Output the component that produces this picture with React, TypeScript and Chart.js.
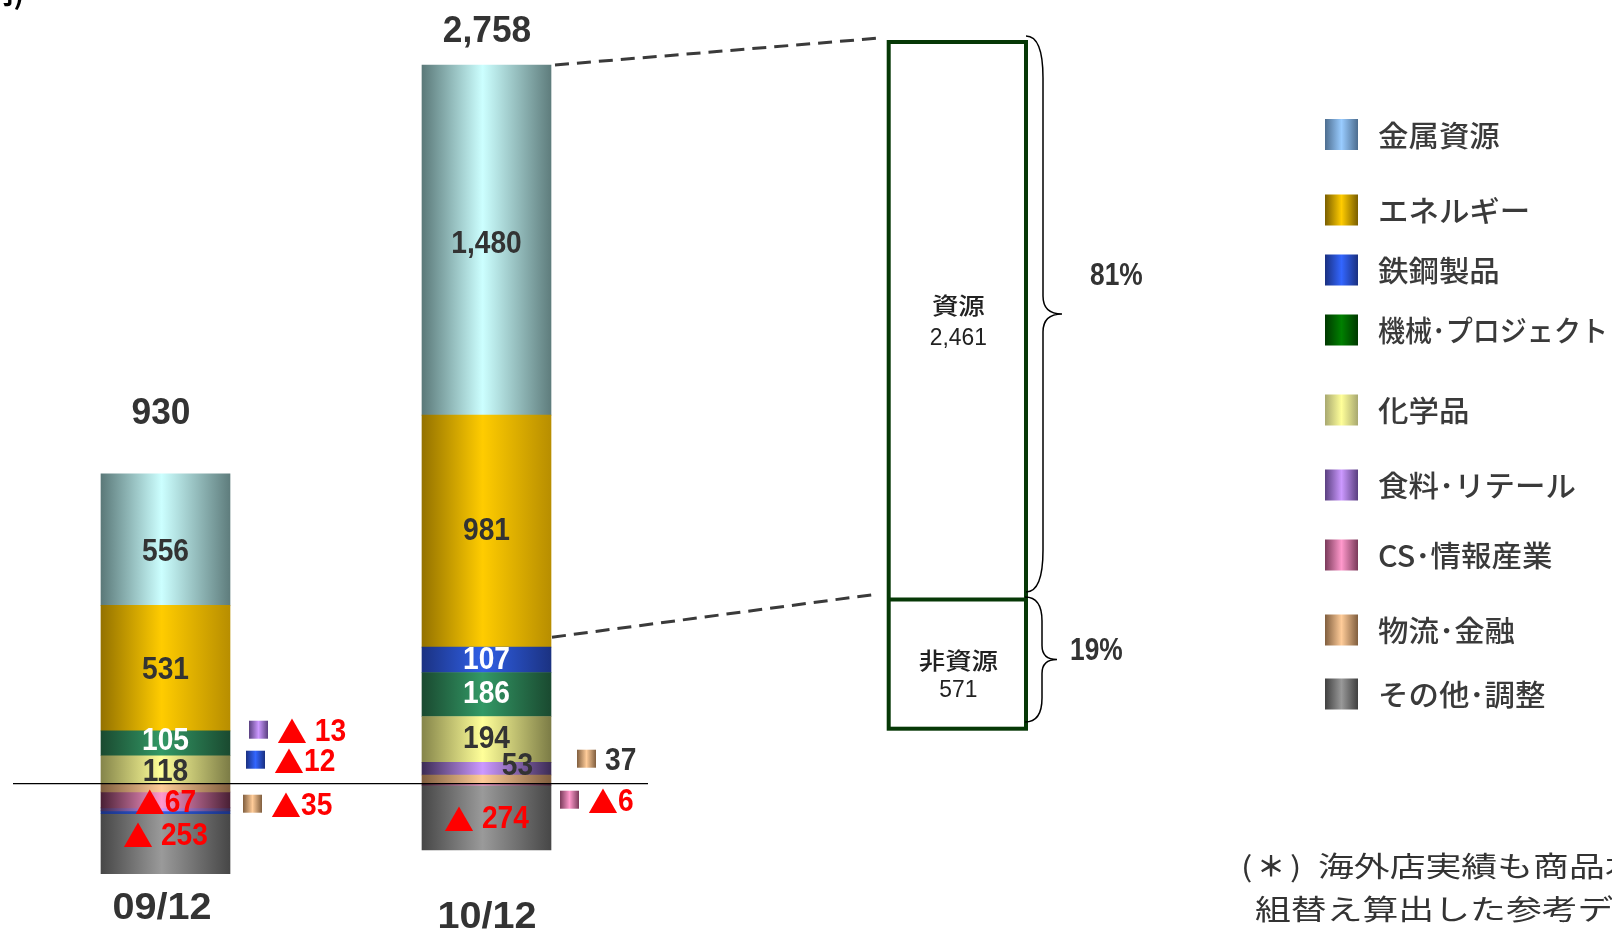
import React, { useEffect, useRef } from "react";
import { Chart, registerables } from "chart.js";

Chart.register(...registerables);

// ---------------- data ----------------
const categories = ["09/12", "10/12"];
const metalValues = [556, 1480];
const energyValues = [531, 981];
const steelValues = [-12, 107];
const machineryValues = [105, 186];
const chemicalValues = [118, 194];
const foodValues = [-13, 53];
const csValues = [-67, -6];
const logisticsValues = [-35, 37];
const otherValues = [-253, -274];
const totalValues = [930, 2758];
const resourceLabel = "資源";
const nonResourceLabel = "非資源";
const resourceValue = 2461;
const nonResourceValue = 571;
const unitText = "(億円)";
const noteLines = ["(＊)海外店実績も商品本部別に", "組替え算出した参考データ"];

// ---------------- styles ----------------
type Series = {
  key: string;
  name: string;
  values: number[];
  bar: string[];
  legend: string[];
  text: string;
};

const SERIES: Series[] = [
  { key: "metal", name: "金属資源", values: metalValues, bar: ["#5b7979", "#ccffff", "#5f7d7d"], legend: ["#4d6d8f", "#99ccff", "#4d6d8f"], text: "#333333" },
  { key: "energy", name: "エネルギー", values: energyValues, bar: ["#947200", "#ffcc00", "#b88e00"], legend: ["#7a5e00", "#ffcc00", "#7a5e00"], text: "#333333" },
  { key: "steel", name: "鉄鋼製品", values: steelValues, bar: ["#1b3282", "#3060e6", "#1b3282"], legend: ["#1a3080", "#3366ff", "#1a3080"], text: "#ffffff" },
  { key: "machinery", name: "機械･プロジェクト", values: machineryValues, bar: ["#1a4a30", "#339966", "#1a4a30"], legend: ["#003800", "#008000", "#003800"], text: "#ffffff" },
  { key: "chemicals", name: "化学品", values: chemicalValues, bar: ["#85854a", "#ffff99", "#7c7c46"], legend: ["#a8a870", "#ffff99", "#a8a870"], text: "#333333" },
  { key: "food", name: "食料･リテール", values: foodValues, bar: ["#3c2c55", "#cc99ff", "#3c2c55"], legend: ["#5a4080", "#cc99ff", "#5a4080"], text: "#333333" },
  { key: "cs", name: "CS･情報産業", values: csValues, bar: ["#4a2035", "#ff99cc", "#4a2035"], legend: ["#7a3a5a", "#ff99cc", "#7a3a5a"], text: "#333333" },
  { key: "logistics", name: "物流･金融", values: logisticsValues, bar: ["#805e3e", "#ffcc99", "#805e3e"], legend: ["#805e3e", "#ffcc99", "#805e3e"], text: "#333333" },
  { key: "other", name: "その他･調整", values: otherValues, bar: ["#474747", "#9a9a9a", "#474747"], legend: ["#404040", "#999999", "#404040"], text: "#333333" },
];
const byKey: Record<string, Series> = {};
SERIES.forEach((s) => (byKey[s.key] = s));

const stackOrder = ["logistics", "cs", "food", "chemicals", "machinery", "steel", "energy", "metal", "other"];
const legendOrder = ["metal", "energy", "steel", "machinery", "chemicals", "food", "cs", "logistics", "other"];

const BAR_W = 129;
const INSIDE_MIN = 50;
const RED = "#ff0000";
const DARK = "#333333";
const JP = '"Noto Sans CJK JP", "Noto Sans CJK SC", sans-serif';
const NUM = '"Liberation Sans", "Noto Sans CJK JP", sans-serif';
const NUM_FONT = `bold 32px ${NUM}`;
const NUM_SX = 0.88;
const TRI_FONT = `bold 30px "Noto Sans CJK JP", sans-serif`;

// ---------------- layout (annotation placement) ----------------
const LABEL_NUDGE: Record<string, number[]> = {
  "metal:0": [0, 13],
  "metal:1": [0, 4],
  "energy:0": [0, 2],
  "machinery:0": [0, -2],
  "chemicals:0": [0, 2],
  "cs:0": [0, 3],
  "food:1": [31, -3],
  "other:0": [0, -8],
  "other:1": [0, 2],
};
const TOTAL_DX = [-4.5, 0.5];
const TOTAL_DY = [-60, -33];
const CAT_DX = [-3.5, 0.5];
const CAT_Y = [909, 918];
const CALLOUTS = [
  { key: "food", idx: 0, dx: 19, dy: -54, space: true },
  { key: "steel", idx: 0, dx: 16, dy: -24, space: false },
  { key: "logistics", idx: 0, dx: 13, dy: 20, space: false },
  { key: "logistics", idx: 1, dx: 26, dy: -25, space: false },
  { key: "cs", idx: 1, dx: 9, dy: 16, space: false },
];
const BOX = { x: 888.7, y: 42, w: 137.3, h: 686.7 };
const LEGEND_Y = [134.5, 210, 270, 330, 410, 485, 555, 630, 694];

type Part = { t: string; font: string; sx: number };

function numParts(v: number, space?: boolean): Part[] {
  const a = Math.abs(v).toLocaleString("en-US");
  if (v < 0) {
    const sp = space || Math.abs(v) >= 100 ? " " : "";
    return [
      { t: "▲", font: TRI_FONT, sx: 1 },
      { t: sp + a, font: NUM_FONT, sx: NUM_SX },
    ];
  }
  return [{ t: a, font: NUM_FONT, sx: NUM_SX }];
}

function rich(ctx: CanvasRenderingContext2D, parts: Part[], x: number, y: number, color: string, align: "left" | "center") {
  ctx.save();
  ctx.fillStyle = color;
  ctx.textBaseline = "middle";
  ctx.textAlign = "left";
  const widths = parts.map((p) => {
    ctx.font = p.font;
    return ctx.measureText(p.t).width * p.sx;
  });
  const total = widths.reduce((a, b) => a + b, 0);
  let cx = align === "center" ? x - total / 2 : x;
  parts.forEach((p, i) => {
    ctx.save();
    ctx.font = p.font;
    ctx.translate(cx, y);
    ctx.scale(p.sx, 1);
    ctx.fillText(p.t, 0, 0);
    ctx.restore();
    cx += widths[i];
  });
  ctx.restore();
}

function txt(
  ctx: CanvasRenderingContext2D,
  s: string,
  x: number,
  y: number,
  font: string,
  color: string,
  align: CanvasTextAlign = "center",
  sx = 1,
  baseline: CanvasTextBaseline = "middle",
  maxW?: number
) {
  ctx.save();
  ctx.font = font;
  ctx.fillStyle = color;
  ctx.textAlign = align;
  ctx.textBaseline = baseline;
  ctx.translate(x, y);
  ctx.scale(sx, 1);
  if (maxW) ctx.fillText(s, 0, 0, maxW / sx);
  else ctx.fillText(s, 0, 0);
  ctx.restore();
}

function hGrad(ctx: CanvasRenderingContext2D, x0: number, w: number, stops: string[], mid = 0.47) {
  const g = ctx.createLinearGradient(x0, 0, x0 + w, 0);
  g.addColorStop(0, stops[0]);
  g.addColorStop(mid, stops[1]);
  g.addColorStop(1, stops[2]);
  return g;
}

function swatch(ctx: CanvasRenderingContext2D, x: number, y: number, w: number, h: number, stops: string[]) {
  ctx.save();
  ctx.fillStyle = hGrad(ctx, x, w, stops, 0.5);
  ctx.fillRect(x, y, w, h);
  ctx.restore();
}

function brace(ctx: CanvasRenderingContext2D, x0: number, yTop: number, yBot: number, xm: number, xTip: number, rEnd: number, rTip: number) {
  const ym = (yTop + yBot) / 2;
  ctx.beginPath();
  ctx.moveTo(x0, yTop);
  ctx.quadraticCurveTo(xm, yTop, xm, yTop + rEnd);
  ctx.lineTo(xm, ym - rTip);
  ctx.quadraticCurveTo(xm, ym, xTip, ym);
  ctx.quadraticCurveTo(xm, ym, xm, ym + rTip);
  ctx.lineTo(xm, yBot - rEnd);
  ctx.quadraticCurveTo(xm, yBot, x0, yBot);
  ctx.stroke();
}

// gives every bar segment its cylinder-like horizontal gradient, from the element's own x
const barShading = {
  id: "barShading",
  beforeDatasetsDraw(chart: any) {
    const ctx: CanvasRenderingContext2D = chart.ctx;
    stackOrder.forEach((k, di) => {
      const s = byKey[k];
      const meta = chart.getDatasetMeta(di);
      meta.data.forEach((el: any) => {
        const p = el.getProps(["x"], true);
        if (!isFinite(p.x)) return;
        const g = hGrad(ctx, p.x - BAR_W / 2, BAR_W, s.bar);
        el.options = Object.assign({}, el.options, { backgroundColor: g, borderWidth: 0 });
      });
    });
  },
};

const overlay = {
  id: "overlay",
  afterDatasetsDraw(chart: any) {
    const ctx: CanvasRenderingContext2D = chart.ctx;
    const xs = chart.scales.x;
    const ys = chart.scales.y;
    const y0 = ys.getPixelForValue(0);

    // zero line
    ctx.save();
    ctx.strokeStyle = "#000000";
    ctx.lineWidth = 1.2;
    ctx.beginPath();
    ctx.moveTo(13, y0);
    ctx.lineTo(648, y0);
    ctx.stroke();
    ctx.restore();

    // inside segment labels
    stackOrder.forEach((k, di) => {
      const s = byKey[k];
      const meta = chart.getDatasetMeta(di);
      s.values.forEach((v, i) => {
        if (Math.abs(v) < INSIDE_MIN) return;
        const el = meta.data[i];
        const p = el.getProps(["x", "y", "base"], true);
        const off = LABEL_NUDGE[k + ":" + i] || [0, 0];
        const cy = (p.y + p.base) / 2;
        rich(ctx, numParts(v), p.x + off[0], cy + off[1], v < 0 ? RED : s.text, "center");
      });
    });

    // totals and category labels
    categories.forEach((c, i) => {
      let pos = 0;
      SERIES.forEach((s) => {
        if (s.values[i] > 0) pos += s.values[i];
      });
      const cx = xs.getPixelForValue(i);
      const top = ys.getPixelForValue(pos);
      txt(ctx, totalValues[i].toLocaleString("en-US"), cx + TOTAL_DX[i], top + TOTAL_DY[i], `bold 36px ${NUM}`, DARK, "center", 0.98);
      txt(ctx, c, cx + CAT_DX[i], CAT_Y[i], `bold 36px ${NUM}`, DARK, "center", 1.1);
    });

    // callouts for thin segments
    CALLOUTS.forEach((co) => {
      const s = byKey[co.key];
      const v = s.values[co.idx];
      const right = xs.getPixelForValue(co.idx) + BAR_W / 2;
      const sx = right + co.dx;
      const sy = y0 + co.dy;
      swatch(ctx, sx, sy - 9, 19, 18, s.legend);
      rich(ctx, numParts(v, co.space), sx + 28, sy + 2, v < 0 ? RED : DARK, "left");
    });

    // dashed connector lines
    const metalMeta = chart.getDatasetMeta(stackOrder.indexOf("metal"));
    const energyMeta = chart.getDatasetMeta(stackOrder.indexOf("energy"));
    const mp = metalMeta.data[1].getProps(["x", "y", "base"], true);
    const ep = energyMeta.data[1].getProps(["x", "y", "base"], true);
    ctx.save();
    ctx.strokeStyle = "#3a3a3a";
    ctx.lineWidth = 3;
    ctx.setLineDash([14, 8]);
    ctx.beginPath();
    ctx.moveTo(mp.x + BAR_W / 2 + 4, mp.y);
    ctx.lineTo(880, 38);
    ctx.moveTo(ep.x + BAR_W / 2 + 1, ep.base - 10);
    ctx.lineTo(878, 594);
    ctx.stroke();
    ctx.restore();

    // resource / non-resource box
    const tot = resourceValue + nonResourceValue;
    const divY = BOX.y + (BOX.h * resourceValue) / tot;
    ctx.save();
    ctx.strokeStyle = "#063806";
    ctx.lineWidth = 4;
    ctx.strokeRect(BOX.x, BOX.y, BOX.w, BOX.h);
    ctx.beginPath();
    ctx.moveTo(BOX.x, divY);
    ctx.lineTo(BOX.x + BOX.w, divY);
    ctx.stroke();
    ctx.restore();
    const bcx = BOX.x + BOX.w / 2 + 1;
    txt(ctx, resourceLabel, bcx, 305, `500 23px ${JP}`, "#222222", "center", 1.15);
    txt(ctx, resourceValue.toLocaleString("en-US"), bcx, 338, `24px ${NUM}`, "#222222", "center", 0.95);
    txt(ctx, nonResourceLabel, bcx, 660, `500 23px ${JP}`, "#222222", "center", 1.15);
    txt(ctx, nonResourceValue.toLocaleString("en-US"), bcx, 690, `24px ${NUM}`, "#222222", "center", 0.95);

    // braces and shares
    ctx.save();
    ctx.strokeStyle = "#000000";
    ctx.lineWidth = 1.5;
    brace(ctx, 1026, 36, 592, 1043, 1062, 42, 18);
    brace(ctx, 1025, 597, 722, 1042, 1057, 24, 14);
    ctx.restore();
    txt(ctx, Math.round((resourceValue / tot) * 100) + "%", 1090, 276, `bold 31px ${NUM}`, DARK, "left", 0.85);
    txt(ctx, Math.round((nonResourceValue / tot) * 100) + "%", 1070, 651, `bold 31px ${NUM}`, DARK, "left", 0.85);

    // legend
    legendOrder.forEach((k, i) => {
      const s = byKey[k];
      const cy = LEGEND_Y[i];
      swatch(ctx, 1325, cy - 15.5, 33, 31, s.legend);
      txt(ctx, s.name, 1378, cy + 1, `500 29px ${JP}`, "#3a3a3a", "left", 1.05, "middle", 230);
    });

    // footnote and unit
    const NOTE_FONT = `28px ${JP}`;
    const line1 = noteLines[0];
    txt(ctx, line1.charAt(0), 1241, 866, NOTE_FONT, "#333333", "left", 1.2);
    txt(ctx, line1.charAt(1), 1271, 866, `bold 28px ${JP}`, "#333333", "center", 1.0);
    txt(ctx, line1.charAt(2), 1290, 866, NOTE_FONT, "#333333", "left", 1.2);
    txt(ctx, line1.slice(3), 1318, 866, NOTE_FONT, "#333333", "left", 1.28);
    txt(ctx, noteLines[1], 1255, 909, NOTE_FONT, "#333333", "left", 1.28);
    txt(ctx, unitText, 24, 4, `bold 28px ${JP}`, "#000000", "right", 1, "alphabetic");
  },
};

export default function App() {
  const ref = useRef<HTMLCanvasElement | null>(null);

  useEffect(() => {
    if (!ref.current) return;
    const datasets = stackOrder.map((k) => {
      const s = byKey[k];
      return {
        label: s.name,
        data: s.values,
        borderWidth: 0,
        barThickness: BAR_W,
        backgroundColor: s.bar[1],
      };
    });
    const chart = new Chart(ref.current, {
      type: "bar",
      data: { labels: categories, datasets },
      options: {
        responsive: false,
        animation: false,
        devicePixelRatio: 1,
        events: [],
        layout: { padding: { left: 5, right: 965, top: 3, bottom: 28 } },
        plugins: { legend: { display: false }, tooltip: { enabled: false } },
        scales: {
          x: { stacked: true, display: false, offset: true },
          y: { stacked: true, display: false, min: -500, max: 3300 },
        },
      },
      plugins: [barShading, overlay],
    } as any);
    return () => chart.destroy();
  }, []);

  return (
    <div style={{ position: "absolute", left: 0, top: 0, width: 1612, height: 930, background: "#ffffff", overflow: "hidden" }}>
      <canvas ref={ref} width={1612} height={930} style={{ display: "block", width: 1612, height: 930 }} />
    </div>
  );
}
